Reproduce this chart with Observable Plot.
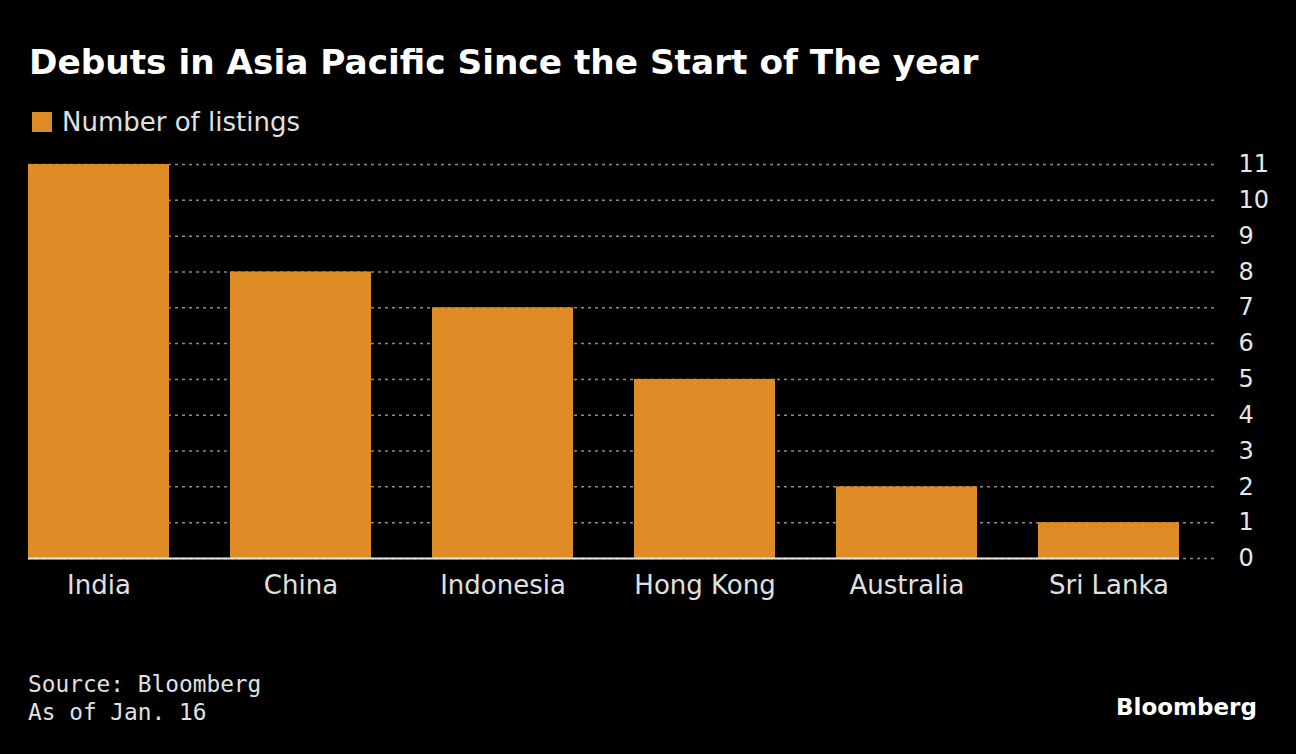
<!DOCTYPE html>
<html>
<head>
<meta charset="utf-8">
<script src="https://cdn.jsdelivr.net/npm/d3@7"></script>
<script src="https://cdn.jsdelivr.net/npm/@observablehq/plot@0.6"></script>
<style>
  html, body { margin: 0; padding: 0; background: #000; }
  body { width: 1296px; height: 754px; position: relative; overflow: hidden; color: #e6e6e6; }
  #title { position: absolute; left: 29px; top: 42px; font-family: "DejaVu Sans", sans-serif; font-weight: bold; font-size: 34.3px; color: #fff; white-space: nowrap; }
  #legend { position: absolute; left: 32px; top: 107px; font-family: "DejaVu Sans", sans-serif; font-size: 26px; color: #e0e0e0; display: flex; align-items: center; white-space: nowrap; }
  #legend .sw { width: 20px; height: 20px; background: #df8b26; margin-right: 10px; }
  #chart { position: absolute; left: 0; top: 150px; }
  #source { position: absolute; left: 28px; top: 670px; font-family: "DejaVu Sans Mono", monospace; font-size: 22.8px; line-height: 28px; color: #e0e0e0; }
  #logo { position: absolute; left: 1116px; top: 694px; font-family: "DejaVu Sans", sans-serif; font-weight: bold; font-size: 23px; color: #fff; }
</style>
</head>
<body>
<div id="title"></div>
<div id="legend"><div class="sw"></div><span id="legtext"></span></div>
<div id="chart"></div>
<div id="source"></div>
<div id="logo">Bloomberg</div>
<script>
const titleText = "Debuts in Asia Pacific Since the Start of The year";
const seriesName = "Number of listings";
const categories = ["India", "China", "Indonesia", "Hong Kong", "Australia", "Sri Lanka"];
const listings = [11, 8, 7, 5, 2, 1];
const yTicks = [0, 1, 2, 3, 4, 5, 6, 7, 8, 9, 10, 11];
const sourceLines = ["Source: Bloomberg", "As of Jan. 16"];

document.getElementById("title").textContent = titleText;
document.getElementById("legtext").textContent = seriesName;
document.getElementById("source").innerHTML = sourceLines.map(s => `<div>${s}</div>`).join("");

const data = categories.map((c, i) => ({country: c, value: listings[i]}));

const chart = Plot.plot({
  width: 1296,
  height: 470,
  marginTop: 14,
  marginBottom: 62,
  marginLeft: 28,
  marginRight: 81,
  style: {background: "transparent", color: "#e0e0e0"},
  x: {domain: categories, paddingInner: 0.3, paddingOuter: 0.0757, align: 0, label: null},
  y: {domain: [0, 11], label: null},
  marks: [
    Plot.ruleY(yTicks, {stroke: "#8a8a8a", strokeWidth: 1.5, strokeDasharray: "3,4"}),
    Plot.barY(data, {x: "country", y: "value", fill: "#df8b26"}),
    Plot.ruleY([0], {stroke: "#e8e8e8", strokeWidth: 2, insetRight: 36}),
    Plot.axisX({tickSize: 0, tickPadding: 17, fontSize: 26, fontFamily: "DejaVu Sans, sans-serif", fill: "#e0e0e0"}),
    Plot.axisY({anchor: "right", ticks: yTicks, tickSize: 0, tickPadding: 23, fontSize: 24, fontFamily: "DejaVu Sans, sans-serif", fill: "#e6e6e6"})
  ]
});
document.getElementById("chart").appendChild(chart);
</script>
</body>
</html>
